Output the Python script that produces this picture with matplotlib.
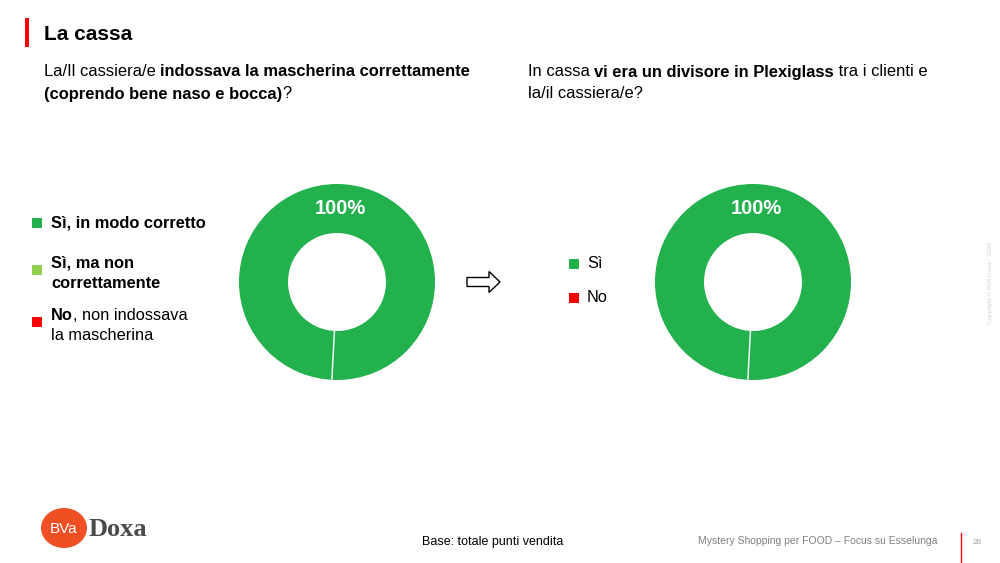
import numpy as np
import matplotlib.pyplot as plt
from matplotlib.patches import Rectangle, Ellipse, FancyArrow

plt.rcParams['font.family'] = ['Liberation Sans', 'DejaVu Sans']

# data
q1_labels = ["Sì, in modo corretto", "Sì, ma non correttamente", "No, non indossava la mascherina"]
q1_values = [100, 0, 0]
q1_colors = ["#22B14C", "#92D050", "#FF0000"]

q2_labels = ["Sì", "No"]
q2_values = [100, 0]
q2_colors = ["#22B14C", "#FF0000"]

W, H = 1000, 563
fig = plt.figure(figsize=(W / 100, H / 100), dpi=100)

# overlay in pixel coords for the slide furniture
bg = fig.add_axes([0, 0, 1, 1])
bg.set_xlim(0, W)
bg.set_ylim(H, 0)
bg.axis('off')


def donut(cx, cy, values, colors, r=98, start=-93):
    ax = fig.add_axes([(cx - 100) / W, (H - cy - 100) / H, 200 / W, 200 / H])
    lim = 100 / r
    wedges, _, autotexts = ax.pie(
        values, colors=colors, startangle=start, counterclock=True,
        radius=1, wedgeprops=dict(width=0.5, linewidth=0),
        autopct=lambda p: f"{p:.0f}%" if p > 0 else "", pctdistance=0.75)
    for t in autotexts:
        t.set_color('white')
        t.set_fontsize(14.5)
        t.set_fontweight('bold')
    # thin white separator at the start of the ring
    a = np.deg2rad(start)
    ax.plot([0.5 * np.cos(a), np.cos(a)], [0.5 * np.sin(a), np.sin(a)], color='white', lw=1)
    ax.set_xlim(-lim, lim)
    ax.set_ylim(-lim, lim)
    ax.set_aspect('equal')
    ax.axis('off')


donut(337, 282, q1_values, q1_colors)
donut(753, 282, q2_values, q2_colors)

# title
bg.add_patch(Rectangle((25, 18), 4, 29, color='#FF0000', lw=0))
bg.text(44, 35, "La cassa", fontsize=15, fontweight='bold', va='center', ha='left')

# questions
fs = 11.9
t = bg.text(44, 72, "La/Il cassiera/e ", fontsize=fs, va='center')
bg.annotate("indossava la mascherina correttamente", xycoords=t, xy=(1, 0), va='bottom',
            fontsize=fs, fontweight='bold')
t = bg.text(44, 94, "(coprendo bene naso e bocca)", fontsize=fs, va='center', fontweight='bold')
bg.annotate("?", xycoords=t, xy=(1, 0), va='bottom', fontsize=fs)

t = bg.text(528, 72, "In cassa ", fontsize=fs, va='center')
t = bg.annotate("vi era un divisore in Plexiglass", xycoords=t, xy=(1, 0), va='bottom',
                fontsize=fs, fontweight='bold')
bg.annotate(" tra i clienti e", xycoords=t, xy=(1, 0), va='bottom', fontsize=fs)
bg.text(528, 94, "la/il cassiera/e?", fontsize=fs, va='center')

# left legend
lfs = 11.8
bg.add_patch(Rectangle((32, 218), 10, 10, color=q1_colors[0], lw=0))
bg.text(51, 223, "Sì, in modo corretto", fontsize=lfs, fontweight='bold', va='center')
bg.add_patch(Rectangle((32, 265), 10, 10, color=q1_colors[1], lw=0))
bg.text(51, 263, "Sì, ma non", fontsize=lfs, fontweight='bold', va='center')
bg.text(51, 283, "correttamente", fontsize=lfs, fontweight='bold', va='center')
bg.add_patch(Rectangle((32, 317), 10, 10, color=q1_colors[2], lw=0))
t = bg.text(51, 315, "No", fontsize=lfs, fontweight='bold', va='center')
bg.annotate(", non indossava", xycoords=t, xy=(1, 0), va='bottom', fontsize=lfs)
bg.text(51, 335, "la mascherina", fontsize=lfs, va='center')

# right legend
for i, (lab, col) in enumerate(zip(q2_labels, q2_colors)):
    y = 264 + i * 34
    bg.add_patch(Rectangle((569, y - 5), 10, 10, color=col, lw=0))
    bg.text(587, y, lab, fontsize=lfs, va='center')

# arrow
bg.add_patch(FancyArrow(467, 282, 22, 0, width=9, head_width=21, head_length=11,
                        facecolor='white', edgecolor='black', lw=1,
                        length_includes_head=False))

# logo
bg.add_patch(Ellipse((64, 528), 46, 40, color='#F04E23', lw=0))
bg.text(64, 529, "BVa", color='white', fontsize=11, ha='center', va='center')
bg.text(89, 529, "Doxa", color='#4A4A4A', fontsize=19, fontweight='bold',
        family='Liberation Serif', ha='left', va='center')

# footer
bg.text(422, 542, "Base: totale punti vendita", fontsize=9.0, va='center')
bg.text(698, 541, "Mystery Shopping per FOOD – Focus su Esselunga", fontsize=7.5,
        color='#808080', va='center')
bg.plot([961, 961], [533, 563], color='#FF0000', lw=1)
bg.text(973, 542, "28", fontsize=6, color='#A0A0A0', va='center')
bg.text(990, 283, "Copyright © BVA Doxa - 2020", fontsize=4.5, color='#D0D0D0',
        rotation=90, ha='center', va='center')

fig.savefig("out.png", dpi=100)
